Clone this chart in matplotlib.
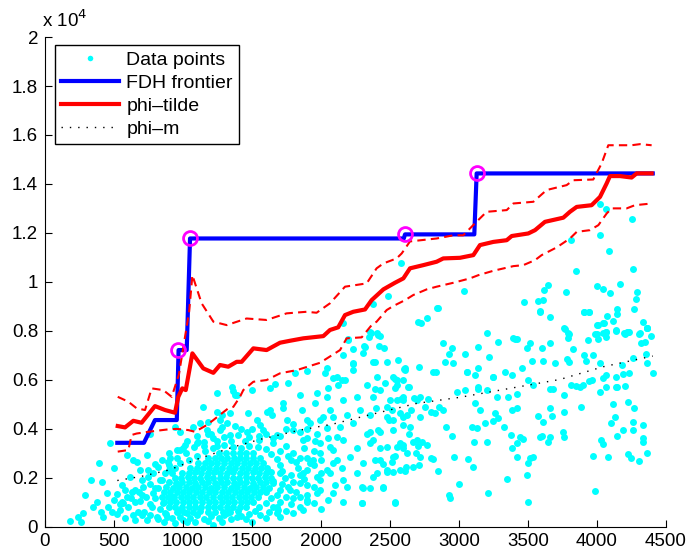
import numpy as np
import matplotlib.pyplot as plt

plt.rcParams['font.family'] = ['Liberation Sans', 'DejaVu Sans']

# dense centre of the sample
core_pts = [
    (960, 600), (1010, 610), (1070, 590), (1120, 620), (1180, 600), (1230, 590), (1290, 610), (1340, 600), (1400, 620),
    (900, 800), (945, 790), (990, 810), (1040, 800), (1085, 790), (1130, 810), (1180, 800), (1225, 790), (1270, 810),
    (1320, 800), (1365, 790), (1410, 810), (1460, 800),
    (860, 1000), (905, 990), (950, 1010), (1000, 1000), (1045, 990), (1090, 1010), (1140, 1000), (1185, 990), (1230, 1010),
    (1280, 1000), (1325, 990), (1370, 1010), (1420, 1000), (1465, 990), (1510, 1010),
    (845, 1200), (890, 1190), (935, 1210), (985, 1200), (1030, 1190), (1075, 1210), (1125, 1200), (1170, 1190), (1215, 1210),
    (1265, 1200), (1310, 1190), (1355, 1210), (1405, 1200), (1450, 1190), (1495, 1210), (1545, 1200),
    (860, 1400), (905, 1390), (955, 1410), (1000, 1400), (1045, 1390), (1095, 1410), (1140, 1400), (1185, 1390), (1235, 1410),
    (1280, 1400), (1325, 1390), (1375, 1410), (1420, 1400), (1465, 1390), (1515, 1410), (1560, 1400), (1600, 1390),
    (880, 1600), (925, 1590), (970, 1610), (1020, 1600), (1065, 1590), (1110, 1610), (1160, 1600), (1205, 1590), (1250, 1610),
    (1300, 1600), (1345, 1590), (1390, 1610), (1440, 1600), (1485, 1590), (1530, 1610), (1580, 1600), (1625, 1590),
    (900, 1800), (950, 1790), (995, 1810), (1040, 1800), (1090, 1790), (1135, 1810), (1180, 1800), (1230, 1790), (1275, 1810),
    (1320, 1800), (1370, 1790), (1415, 1810), (1460, 1800), (1510, 1790), (1555, 1810), (1600, 1800), (1650, 1790),
    (940, 2000), (985, 1990), (1035, 2010), (1080, 2000), (1125, 1990), (1175, 2010), (1220, 2000), (1265, 1990), (1315, 2010),
    (1360, 2000), (1405, 1990), (1455, 2010), (1500, 2000), (1545, 1990), (1595, 2010), (1640, 2000),
    (990, 2200), (1040, 2190), (1085, 2210), (1130, 2200), (1180, 2190), (1225, 2210), (1270, 2200), (1320, 2190), (1365, 2210),
    (1410, 2200), (1460, 2190), (1505, 2210), (1550, 2200), (1600, 2190), (1640, 2210),
    (1050, 2400), (1100, 2390), (1145, 2410), (1190, 2400), (1240, 2390), (1285, 2410), (1330, 2400), (1380, 2390), (1425, 2410),
    (1470, 2400), (1520, 2390), (1565, 2410), (1610, 2400),
    (1110, 2600), (1160, 2590), (1205, 2610), (1250, 2600), (1300, 2590), (1345, 2610), (1390, 2600), (1440, 2590), (1485, 2610),
    (1530, 2600), (1580, 2590),
    (1180, 2800), (1230, 2790), (1275, 2810), (1320, 2800), (1370, 2790), (1415, 2810), (1460, 2800), (1510, 2790), (1555, 2810),
    (1260, 3000), (1310, 2990), (1360, 3010), (1410, 3000), (1460, 2990), (1510, 3010),
]

# thinner ring around the centre
halo_pts = [
    (720, 600), (760, 900), (800, 1150), (830, 700), (780, 1350), (850, 1900), (870, 2200), (820, 2450), (900, 2500),
    (760, 1750), (690, 1050), (650, 1500), (600, 800), (560, 1700), (730, 1200), (880, 500), (920, 350), (980, 400),
    (1050, 350), (1100, 450), (1150, 300), (1200, 420), (1260, 350), (1300, 450), (1350, 300), (1420, 420), (1480, 500),
    (1520, 650), (1550, 800), (1600, 950), (1640, 1150), (1680, 1300), (1700, 1500), (1720, 1750), (1740, 2000),
    (1720, 2250), (1700, 2500), (1680, 2750), (1640, 2950), (1600, 3150), (1540, 3250), (1480, 3300), (1420, 3200),
    (1360, 3250), (1300, 3350), (1220, 3200), (1160, 3100), (1100, 2900), (1040, 2700), (980, 2600), (940, 2400),
    (900, 2300), (960, 2800), (1020, 3000), (1080, 3250), (1150, 3450), (1250, 3500), (1450, 3500), (1550, 3550),
    (1650, 3400), (1750, 3300), (1800, 3000), (1780, 2700), (1830, 2400), (1850, 2100), (1800, 1800), (1760, 1600),
    (1820, 1400), (1750, 1200), (1700, 1000), (1650, 800), (1780, 900), (1620, 600), (1560, 450), (1900, 1700),
    (1950, 2500), (1900, 2800), (1880, 3200), (1960, 3500), (1700, 3700), (1600, 3800), (1400, 3750), (1300, 3650),
    (1200, 3800), (1500, 4000), (1750, 4000), (1850, 3850),
    (1700, 400), (1750, 650), (1850, 800), (1900, 1300), (1950, 1600), (2000, 2200), (1880, 1950), (1820, 2650),
    (1760, 2900), (1700, 3100), (1650, 3600), (1550, 3700), (1480, 3650), (1350, 3500), (1250, 3300), (1150, 3300),
    (1000, 3200), (900, 3000), (850, 2700), (800, 2550), (750, 2300), (700, 1900), (680, 1400), (620, 1150),
    (580, 1500), (540, 900), (500, 1100), (460, 800), (520, 500), (580, 350), (650, 250), (700, 450), (760, 450),
    (820, 300), (860, 200), (940, 150), (1000, 250), (1090, 180), (1180, 220), (1280, 200), (1320, 550), (1460, 300),
    (1500, 200), (1600, 350), (1680, 550), (1800, 550), (1850, 1200), (1950, 950), (2050, 1100), (2000, 700),
    (1650, 1850), (1700, 2200), (1780, 2100), (1850, 2800), (1950, 3100), (2050, 3600), (2000, 2700), (2150, 2400),
    (2100, 1700), (1900, 4000), (1800, 4200), (1560, 4150), (1420, 4000), (1280, 4050), (1100, 3700), (1030, 3500),
    (980, 3850),
]

# scattered points further out
outer_pts = [
    (181, 240), (241, 375), (259, 200), (290, 1290), (278, 540), (331, 1910), (350, 810), (374, 1010), (394, 2580),
    (411, 1830), (404, 605), (423, 400), (447, 1355), (471, 3420), (483, 605), (500, 2380), (520, 1330), (543, 675),
    (555, 1010), (597, 2920), (616, 2035), (628, 1420), (652, 1010), (676, 605), (664, 2650), (700, 1290), (741, 2920),
    (749, 2035), (761, 3800), (773, 810), (797, 1560), (809, 400), (833, 1900), (853, 950), (870, 540), (893, 2650),
    (918, 2170), (925, 1220), (942, 4080), (954, 3125), (978, 675), (1015, 3330), (1027, 540), (1220, 60), (1147, 4890),
    (1244, 5470), (1353, 5710), (1389, 5370), (1280, 4555), (1317, 4215), (1183, 3800), (1111, 3460), (1172, 3940),
    (1268, 3940), (567, 950), (592, 1220), (712, 1630), (688, 2310), (785, 2170), (821, 1560), (640, 2720), (906, 2790),
    (978, 3125), (737, 265), (640, 470), (882, 400), (1027, 200), (1389, 400), (1075, 4080),
    (1377, 5370), (1498, 5575), (1667, 5820), (1812, 6260), (2029, 6260), (2089, 6050), (1848, 5370), (1969, 5470),
    (2053, 5645), (2125, 5780), (1244, 4690), (1341, 4620), (1473, 4620), (1606, 4690), (1727, 5030), (1860, 4760),
    (1957, 5030), (1993, 4350), (2089, 4485), (1123, 4215), (1183, 4280), (1268, 4350), (1377, 4105), (1534, 4350),
    (1643, 4555), (1751, 4350), (1800, 3940), (1920, 4215), (2041, 4010), (2113, 3670), (1099, 3400), (1220, 3600),
    (1341, 3740), (1461, 3870), (1582, 3940), (1679, 3740), (1896, 3600), (1993, 3400), (2089, 3125), (1944, 2720),
    (2041, 2310), (1993, 1900), (2089, 2580), (1896, 2310), (1848, 1765), (1969, 1355), (1800, 1150), (1896, 1010),
    (1679, 810), (1775, 1490), (1630, 4760), (1727, 4830), (1365, 5550), (1630, 5645), (1763, 5850), (1896, 6365),
    (2041, 6460), (2113, 6120), (2174, 5985), (2150, 5985),
    (2198, 7620), (2162, 7005), (2234, 6665), (2234, 6390), (2319, 7345), (2355, 7960), (2415, 7820), (2457, 7280),
    (2391, 6730), (2476, 6730), (2560, 6800), (2609, 6390), (2524, 6120), (2548, 5985), (2403, 6120), (2331, 5780),
    (2428, 5575), (2536, 5645), (2633, 5710), (2693, 5170), (2597, 5170), (2500, 5170), (2379, 5300), (2259, 5300),
    (2162, 5170), (2041, 5300), (2065, 4760), (2186, 4555), (2283, 4760), (2355, 4555), (2476, 4485), (2621, 4555),
    (2717, 4485), (1896, 4350), (2017, 4485), (2138, 4080), (2234, 4215), (2331, 3800), (2428, 3870), (2524, 3940),
    (2645, 4080), (1969, 3800), (1872, 3530), (2065, 3260), (2162, 3530), (2259, 3190), (2355, 3400), (2476, 3260),
    (2572, 3400), (2693, 3530), (1993, 2990), (2113, 2720), (2210, 2850), (2307, 2580), (2428, 2720), (2524, 2850),
    (2621, 2990), (2717, 2850), (1920, 2580), (1872, 2170), (1969, 2035), (2065, 2170), (2162, 1900), (2259, 2170),
    (2379, 2035), (2476, 2310), (2572, 2310), (2669, 2440), (1993, 1490), (2089, 1355), (2186, 1630), (2307, 1560),
    (2452, 1630), (1896, 1080), (2162, 1010), (2295, 950), (2536, 1010), (1872, 675), (1691, 675), (2307, 7075),
    (2230, 7240), (2193, 7650), (2162, 8300), (2360, 7920), (2374, 9090), (2488, 9430), (2408, 7890), (2428, 7780),
    (2348, 7730), (2314, 7375), (2422, 7375), (2230, 6640), (2379, 6730), (2609, 6460), (2705, 8370), (2577, 10750),
    (2295, 1630), (2355, 1560),
    (2725, 8325), (2770, 8505), (2845, 8910), (2713, 6500), (2604, 6435), (2886, 7485), (2947, 7280), (2930, 7035),
    (2899, 6730), (2959, 6665), (2814, 6325), (2833, 6325), (3043, 7045), (3060, 6325), (3140, 7345), (3205, 7920),
    (3220, 6910), (3280, 7550), (3140, 6460), (3116, 6190), (3249, 6120), (3333, 6325), (3394, 7690), (3418, 7650),
    (3490, 7280), (3514, 7485), (3454, 6460), (3527, 6770), (3599, 7280), (3659, 7510), (3587, 8815), (3659, 8570),
    (3606, 6770), (3696, 6665), (3761, 8095), (3799, 7860), (3792, 7690), (3828, 7240), (3780, 6830), (3799, 6730),
    (3906, 8760), (3944, 8760), (3932, 7620), (3906, 7005), (3920, 6760), (3973, 7005), (3997, 7860), (4004, 7650),
    (4005, 8230), (4046, 8325), (4070, 8600), (4065, 7960), (4065, 7760), (4118, 8410), (4143, 8870), (4148, 8700),
    (4138, 8030), (4196, 7920), (4203, 7860), (4234, 7960), (4268, 8870), (4312, 7890), (4336, 8370), (4365, 8095),
    (4316, 7510), (4345, 7550), (4389, 7780), (4355, 7045), (4360, 6665), (4404, 6285), (4263, 6870), (4234, 6260),
    (4190, 6230), (4138, 6095), (4179, 6600), (4065, 6190), (4022, 6665), (4022, 5510), (4065, 5685), (4138, 5685),
    (4203, 5740), (3961, 5985), (3944, 5950), (3896, 5780), (3882, 4890), (3848, 5740), (3811, 5780), (3761, 5370),
    (3761, 4690), (3684, 5605), (3659, 5605), (3611, 4255), (3659, 4830), (3671, 4515), (3570, 4525), (3587, 3670),
    (3599, 3690), (3647, 3465), (3539, 5780), (3502, 5985), (3423, 5410), (3382, 6190), (3358, 5300), (3418, 4830),
    (3382, 4760), (3442, 3670), (3466, 3560), (3418, 3420), (3375, 3740), (3382, 3190), (3418, 2850), (3514, 2790),
    (3539, 2850), (3502, 2580), (3490, 2105), (3502, 1010), (3346, 1930), (3327, 4080), (3280, 4420), (3249, 4330),
    (3261, 4625), (3273, 5280), (3244, 6095), (3140, 5685), (3140, 5605), (3200, 5560), (3116, 5030), (3152, 4760),
    (3188, 4240), (3128, 4010), (3097, 4080), (3200, 3465), (3111, 3465), (3068, 2745), (3104, 2440), (3208, 1380),
    (3002, 1735), (2930, 1290), (2935, 1150), (2964, 2825), (3043, 5560), (3056, 6325), (2983, 5505), (2886, 4760),
    (2826, 4620), (2857, 4890), (2795, 4660), (2906, 4050), (2947, 3700), (2850, 2280), (2797, 2810), (2810, 2750),
    (2713, 2510), (2770, 3330), (2705, 3290), (2669, 3465), (2596, 3330), (2536, 2880), (2609, 2280), (2614, 2440),
    (2524, 2240), (2512, 2650), (2447, 1560), (2536, 970), (2403, 2170), (2476, 2240), (2688, 2990), (2729, 3465),
    (2597, 4145), (2592, 4485), (2512, 4760), (2524, 4350), (2495, 4350), (2640, 3800), (2650, 4760), (2778, 5195),
    (2717, 5300), (2674, 5235), (2751, 4890), (2553, 5160), (2582, 5215), (2638, 5710), (2596, 5985), (2539, 6010),
    (2553, 5780), (2596, 5300), (3985, 1450), (2295, 970), (2391, 2720), (2452, 2555), (2592, 3190), (2548, 3260),
    (2428, 3190), (2374, 3530), (2355, 3870), (2415, 3940), (2572, 4625), (2476, 4890), (2399, 4850), (2391, 5605),
    (2464, 5850), (4360, 2990), (4306, 2690), (4244, 2790), (4227, 2960), (4336, 3600), (4331, 3465), (4336, 4145),
    (4263, 4280), (4263, 3940), (4186, 3940), (4143, 3700), (4133, 4460), (4099, 4215), (4114, 4990), (4041, 3370),
    (4027, 3530), (4082, 2850), (3973, 2880), (4222, 5100), (4268, 4830), (4143, 5710), (4041, 6050), (3877, 5685),
    (3756, 3870), (3761, 3640), (3659, 3670),
    (4022, 13170), (4065, 12960), (4251, 12560), (4022, 11900), (3809, 11700), (4089, 11255), (3846, 10450),
    (4259, 10520), (3647, 9865), (3616, 9660), (3775, 9590), (3997, 9825), (4041, 9690), (4094, 9525), (4167, 9905),
    (4288, 9565), (3036, 9620), (3473, 9185), (3570, 9225), (3611, 9250), (3587, 8775), (3908, 8775), (3944, 8775),
    (4002, 8230), (4280, 9280), (4360, 8095), (4220, 7960), (4063, 7960), (4044, 7890), (2843, 8910), (3406, 7670),
    (3792, 7890), (3768, 8070), (4051, 8300), (4365, 8120), (4306, 7860), (4227, 7960), (4138, 8000), (3988, 7850),
]

# FDH staircase and its marked efficient points
fdh_x = [524, 717, 797, 955, 968, 1027, 1051, 2600, 2609, 3111, 3128, 4404]
fdh_y = [3420, 3420, 4350, 4350, 7210, 7210, 11770, 11770, 11937, 11937, 14428, 14428]
circ_x = [966, 1051, 2609, 3128]
circ_y = [7210, 11770, 11937, 14428]

# phi-tilde estimate with its upper and lower bands
tilde_x = [527, 580, 640, 700, 797, 870, 942, 966, 995, 1020, 1068, 1147, 1220, 1268, 1328, 1389, 1425, 1510,
           1606, 1703, 1775, 1872, 2017, 2065, 2125, 2174, 2234, 2319, 2367, 2452, 2536, 2597, 2645, 2741, 2838,
           2886, 3007, 3104, 3152, 3249, 3346, 3382, 3502, 3551, 3623, 3756, 3804, 3853, 3961, 4022, 4070, 4094,
           4167, 4251, 4288, 4396]
tilde_y = [4105, 4050, 4320, 4240, 4920, 4760, 4650, 5300, 5645, 5575, 7075, 6460, 6280, 6600, 6530, 6730, 6730,
           7280, 7210, 7510, 7590, 7690, 7780, 8030, 8140, 8640, 8775, 8870, 9250, 9690, 9960, 10140, 10550,
           10680, 10820, 10955, 10980, 11090, 11500, 11630, 11700, 11870, 11975, 12110, 12450, 12620, 12860,
           13060, 13130, 13470, 14020, 14320, 14320, 14260, 14430, 14430]

upper_x = [527, 604, 664, 725, 773, 857, 918, 970, 1045, 1068, 1135, 1220, 1317, 1461, 1606, 1751, 1896, 1968,
           2065, 2174, 2331, 2403, 2452, 2548, 2585, 2645, 2838, 2959, 3031, 3116, 3200, 3346, 3394, 3539, 3635,
           3780, 3828, 3973, 4034, 4082, 4155, 4251, 4312, 4396]
upper_y = [5300, 5100, 4830, 4760, 5645, 5575, 5300, 6200, 8800, 10270, 9120, 8370, 8230, 8500, 8440, 8710, 8775,
           8735, 9120, 9800, 9935, 10550, 10750, 10955, 11160, 11650, 11770, 11900, 11900, 12390, 12860, 12930,
           13200, 13270, 13750, 13950, 14150, 14180, 14840, 15580, 15580, 15580, 15625, 15580]

lower_x = [527, 604, 628, 664, 750, 820, 893, 954, 1039, 1087, 1172, 1220, 1328, 1365, 1413, 1437, 1510, 1606,
           1703, 1824, 1993, 2138, 2186, 2295, 2367, 2403, 2476, 2524, 2609, 2669, 2766, 2838, 2959, 3080, 3140,
           3249, 3394, 3466, 3551, 3599, 3708, 3804, 3853, 3949, 4010, 4070, 4106, 4215, 4275, 4396]
lower_y = [3060, 3125, 3740, 3800, 3870, 3920, 3970, 3990, 3940, 3870, 4145, 4350, 4830, 4890, 5300, 5575, 5915,
           5985, 6260, 6390, 6690, 7210, 7690, 7730, 8230, 8370, 8845, 9010, 9250, 9460, 9690, 9800, 9960, 10140,
           10270, 10450, 10640, 10680, 10885, 11090, 11405, 11770, 12040, 12110, 12315, 12790, 13000, 13000,
           13130, 13200]

# phi-m
phim_x = [524, 700, 900, 1075, 1365, 1558, 1848, 2089, 2379, 2693, 3007, 3370, 3732, 4046, 4404]
phim_y = [1880, 2050, 2310, 2700, 3250, 3560, 3940, 4190, 4600, 5030, 5280, 5645, 6010, 6530, 6965]

xticks = [0, 500, 1000, 1500, 2000, 2500, 3000, 3500, 4000, 4500]
yticks = [0, 2000, 4000, 6000, 8000, 10000, 12000, 14000, 16000, 18000, 20000]

fig = plt.figure(figsize=(6.88, 5.60), dpi=100)
ax = fig.add_axes([0.0654, 0.0598, 0.9026, 0.874])

pts = np.array(core_pts + halo_pts + outer_pts, dtype=float)
ax.plot(pts[:, 0], pts[:, 1], 'o', color='cyan', ms=5.0, mew=0, zorder=1, label='Data points')
ax.plot(fdh_x, fdh_y, color='blue', lw=3, zorder=3, label='FDH frontier')
ax.plot(tilde_x, tilde_y, color='red', lw=3, zorder=4, label='phi\u2013tilde')
ax.plot(phim_x, phim_y, color='black', lw=1, ls=(0, (1, 5)), zorder=2, label='phi\u2013m')
ax.plot(upper_x, upper_y, color='red', lw=1.5, ls=(0, (4, 2.5)), zorder=4)
ax.plot(lower_x, lower_y, color='red', lw=1.5, ls=(0, (4, 2.5)), zorder=4)
ax.plot(circ_x, circ_y, 'o', mfc='none', mec='magenta', ms=10, mew=2, zorder=5)

ax.set_xlim(0, 4500)
ax.set_ylim(0, 20000)
ax.set_xticks(xticks)
ax.set_yticks(yticks)
ax.set_yticklabels(['%g' % (v / 1e4) for v in yticks])
ax.tick_params(direction='in', length=5, labelsize=13.5, pad=5)
ax.spines['top'].set_visible(False)
ax.spines['right'].set_visible(False)
ax.text(-0.005, 1.012, r'x 10$^4$', transform=ax.transAxes, ha='left', va='bottom', fontsize=13.5)

leg = ax.legend(loc='upper left', bbox_to_anchor=(0.016, 0.984), fontsize=14, fancybox=False,
                framealpha=1, edgecolor='black', handlelength=3.0, handletextpad=0.35,
                labelspacing=0.28, borderpad=0.32, borderaxespad=0.0, markerscale=0.8)
leg.get_frame().set_linewidth(1)

fig.savefig('out.png', dpi=100)
